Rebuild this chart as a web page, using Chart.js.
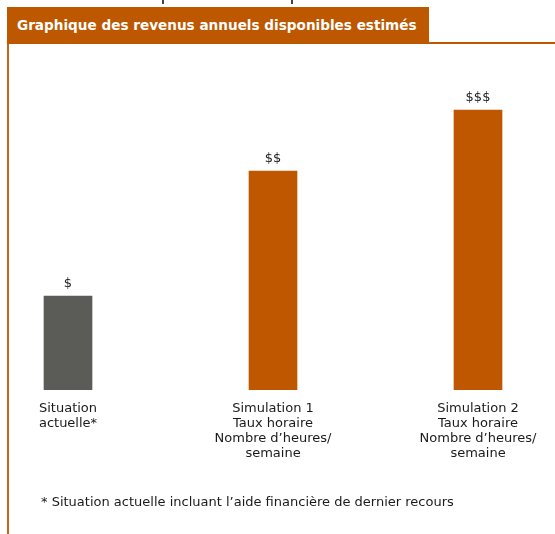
<!DOCTYPE html>
<html>
<head>
<meta charset="utf-8">
<script src="https://cdn.jsdelivr.net/npm/chart.js@4/dist/chart.umd.min.js"></script>
<style>
  html, body { margin: 0; padding: 0; background: #fff; overflow: hidden; }
  body { width: 555px; height: 534px; position: relative; font-family: 'DejaVu Sans', sans-serif; }
  .frag { position: absolute; top: 0; width: 2px; height: 4px; background: #444; }
  #header { position: absolute; left: 7px; top: 7px; width: 422px; height: 37px; background: #bd5700; color: #fff;
            font-weight: bold; font-size: 13.6px; line-height: 37px; box-sizing: border-box; padding-left: 10px; white-space: nowrap; }
  #topline { position: absolute; left: 429px; top: 42px; width: 126px; height: 2px; background: #bd5700; }
  #leftline { position: absolute; left: 7px; top: 44px; width: 2px; height: 490px; background: #c8651a; }
  #note { position: absolute; left: 41px; top: 494px; font-size: 13px; color: #1a1a1a; white-space: nowrap; }
  #wrap { position: absolute; left: 0; top: 0; width: 555px; height: 534px; }
</style>
</head>
<body>
<div class="frag" style="left:162px"></div>
<div class="frag" style="left:291px"></div>
<div id="header">Graphique des revenus annuels disponibles estimés</div>
<div id="topline"></div>
<div id="leftline"></div>
<div id="wrap"><canvas id="chart"></canvas></div>
<div id="note">* Situation actuelle incluant l’aide financière de dernier recours</div>
<script>
// chart data
const categories = [
    ["Situation", "actuelle*"],
    ["Simulation 1", "Taux horaire", "Nombre d’heures/", "semaine"],
    ["Simulation 2", "Taux horaire", "Nombre d’heures/", "semaine"]
];
const positions = [0, 1, 2];
const values = [94, 219, 280];
const valueLabels = ["$", "$$", "$$$"];
const barColors = ["#5b5c58", "#bf5700", "#bf5700"];

const FONT = "13px 'DejaVu Sans', sans-serif";

// draws the $ labels above bars and the category labels below
const labelPlugin = {
    id: 'labels',
    afterDatasetsDraw(chart) {
        const ctx = chart.ctx;
        const xs = chart.scales.x, ys = chart.scales.y;
        ctx.save();
        ctx.font = FONT;
        ctx.fillStyle = "#1a1a1a";
        ctx.textAlign = "center";
        ctx.textBaseline = "alphabetic";
        positions.forEach((p, i) => {
            const x = xs.getPixelForValue(p);
            ctx.fillText(valueLabels[i], x, ys.getPixelForValue(values[i]) - 9);
            const base = ys.getPixelForValue(0);
            categories[i].forEach((line, j) => {
                ctx.fillText(line, x, base + 22 + j * 15);
            });
        });
        ctx.restore();
    }
};

const ctx = document.getElementById('chart').getContext('2d');
new Chart(ctx, {
    type: 'bar',
    data: {
        datasets: [{
            data: positions.map((p, i) => ({x: p, y: values[i]})),
            backgroundColor: barColors,
            borderWidth: 0,
            barThickness: 48
        }]
    },
    options: {
        responsive: true,
        maintainAspectRatio: false,
        animation: false,
        layout: { padding: { left: 0, right: 0, top: 60, bottom: 144 } },
        scales: {
            x: { type: 'linear', offset: false, min: -68 / 205, max: 487 / 205, display: false },
            y: { min: 0, max: 330, display: false }
        },
        plugins: {
            legend: { display: false },
            tooltip: { enabled: false }
        }
    },
    plugins: [labelPlugin]
});
</script>
</body>
</html>
